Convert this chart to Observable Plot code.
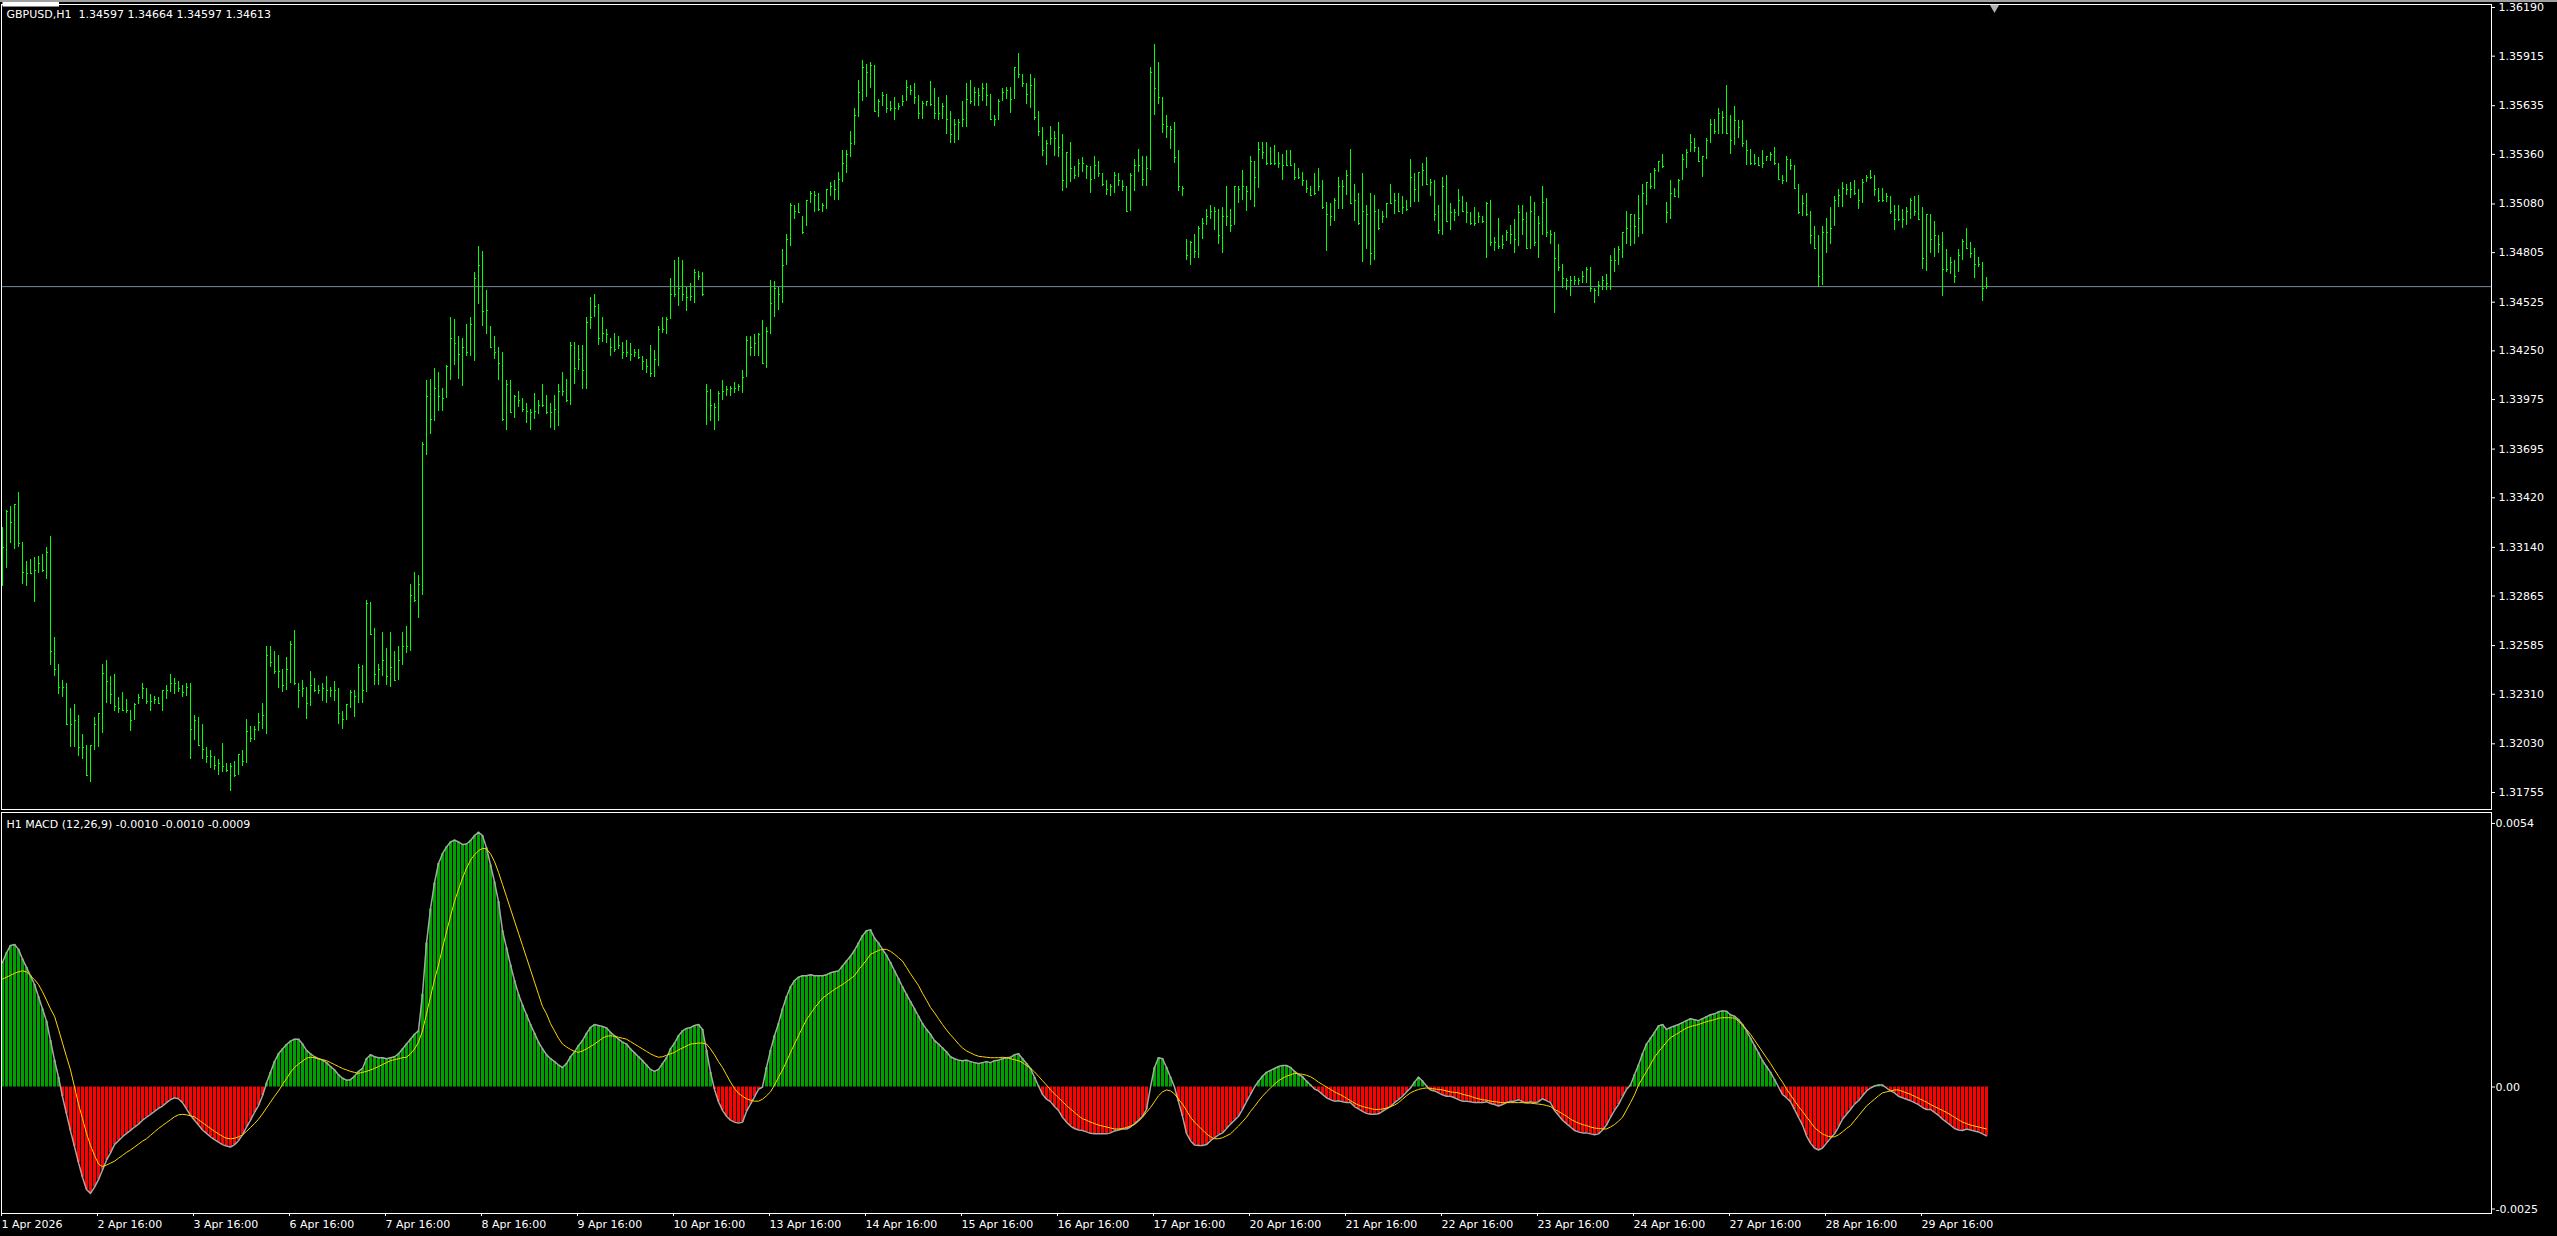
<!DOCTYPE html>
<html><head><meta charset="utf-8">
<script src="https://cdn.jsdelivr.net/npm/d3@7"></script>
<script src="https://cdn.jsdelivr.net/npm/@observablehq/plot@0.6"></script>
<style>
html,body{margin:0;padding:0;background:#000;width:2557px;height:1236px;overflow:hidden;}
#chrome{position:absolute;left:0;top:0;width:2557px;height:2px;background:#a0a0a0;}
#pricePanel{position:absolute;left:0;top:0;}
#macdPanel{position:absolute;left:0;top:810px;}
svg{display:block}
</style></head><body>
<div id="pricePanel"></div><div id="macdPanel"></div><div id="chrome"></div>
<script>
const symbol = "GBPUSD,H1";
const lastBar = [1.34597, 1.34664, 1.34597, 1.34613];
const macdTitle = "H1 MACD (12,26,9)";
const macdLast = [-0.0010, -0.0010, -0.0009];
const priceTicks = [1.36190,1.35915,1.35635,1.35360,1.35080,1.34805,1.34525,1.34250,1.33975,1.33695,1.33420,1.33140,1.32865,1.32585,1.32310,1.32030,1.31755];
const macdTicks = [0.0054, 0, -0.0025];
const macdTickLabels = ["0.0054", "0.00", "-0.0025"];
const timeTickBars = [0,24,48,72,96,120,144,168,192,216,240,264,288,312,336,360,384,408,432,456,480];
const timeTickLabels = ["1 Apr 2026","2 Apr 16:00","3 Apr 16:00","6 Apr 16:00","7 Apr 16:00","8 Apr 16:00","9 Apr 16:00","10 Apr 16:00","13 Apr 16:00","14 Apr 16:00","15 Apr 16:00","16 Apr 16:00","17 Apr 16:00","20 Apr 16:00","21 Apr 16:00","22 Apr 16:00","23 Apr 16:00","24 Apr 16:00","27 Apr 16:00","28 Apr 16:00","29 Apr 16:00"];
const chartShiftBar = [498];

const high = [
1.3325,1.3335,1.3337,1.3338,1.3345,1.3317,1.3306,1.3307,1.3308,1.3309,
1.3310,1.3314,1.3320,1.3263,1.3248,1.3239,1.3237,1.3223,1.3225,1.3219,
1.3208,1.3202,1.3202,1.3218,1.3220,1.3248,1.3250,1.3241,1.3242,1.3229,
1.3232,1.3228,1.3222,1.3226,1.3231,1.3237,1.3234,1.3231,1.3230,1.3229,
1.3233,1.3236,1.3242,1.3240,1.3238,1.3236,1.3237,1.3237,1.3219,1.3218,
1.3214,1.3201,1.3199,1.3196,1.3194,1.3203,1.3192,1.3192,1.3193,1.3197,
1.3199,1.3217,1.3213,1.3213,1.3220,1.3226,1.3258,1.3258,1.3255,1.3253,
1.3245,1.3252,1.3261,1.3267,1.3237,1.3239,1.3235,1.3244,1.3240,1.3236,
1.3237,1.3241,1.3235,1.3238,1.3234,1.3221,1.3225,1.3233,1.3233,1.3248,
1.3247,1.3284,1.3283,1.3268,1.3248,1.3266,1.3257,1.3266,1.3255,1.3258,
1.3266,1.3269,1.3293,1.3300,1.3298,1.3373,1.3408,1.3409,1.3415,1.3413,
1.3404,1.3417,1.3444,1.3443,1.3433,1.3432,1.3440,1.3444,1.3469,1.3484,
1.3481,1.3459,1.3439,1.3433,1.3427,
1.3424,1.3408,1.3408,1.3400,1.3402,1.3398,1.3395,1.3392,1.3401,1.3397,
1.3406,1.3400,1.3395,1.3400,1.3406,1.3413,1.3409,1.3430,1.3430,1.3428,
1.3428,1.3444,1.3455,1.3457,1.3451,1.3444,1.3437,1.3432,1.3435,1.3433,
1.3430,1.3431,1.3429,1.3426,1.3426,1.3422,1.3420,1.3428,1.3425,1.3439,
1.3444,1.3444,1.3466,1.3476,1.3478,1.3476,1.3461,1.3463,1.3471,1.3470,
1.3469,1.3406,1.3403,1.3395,1.3402,1.3408,1.3405,1.3405,1.3407,1.3406,
1.3414,1.3433,1.3433,1.3434,1.3435,1.3442,1.3438,1.3465,1.3464,1.3461,
1.3482,1.3491,1.3508,1.3507,1.3508,1.3501,1.3510,1.3515,1.3515,1.3514,
1.3508,1.3516,1.3520,1.3521,1.3526,1.3538,1.3538,1.3549,1.3562,1.3578,
1.3589,1.3587,1.3588,1.3586,1.3567,1.3571,1.3570,1.3566,1.3568,1.3565,
1.3569,1.3578,1.3575,1.3576,1.3569,1.3566,1.3566,1.3577,1.3573,1.3568,
1.3565,1.3569,1.3560,1.3556,1.3556,1.3566,1.3576,1.3578,1.3574,1.3573,
1.3576,1.3576,1.3570,1.3558,1.3567,
1.3573,1.3574,1.3574,1.3585,1.3593,1.3581,1.3576,1.3581,1.3579,1.3560,
1.3551,1.3544,1.3552,1.3549,1.3554,1.3547,1.3537,1.3543,1.3529,1.3533,
1.3534,1.3530,1.3529,1.3535,1.3532,1.3525,1.3521,1.3519,1.3526,1.3525,
1.3521,1.3518,1.3525,1.3533,1.3539,1.3535,1.3535,1.3585,1.3598,1.3588,
1.3568,1.3558,1.3552,1.3554,1.3538,1.3518,1.3488,1.3487,1.3491,1.3495,
1.3500,1.3505,1.3507,1.3506,1.3505,1.3506,1.3518,1.3505,1.3518,1.3518,
1.3527,1.3518,1.3535,1.3532,1.3543,1.3543,1.3543,1.3540,1.3541,1.3537,
1.3536,1.3538,1.3538,1.3531,1.3528,1.3526,1.3521,1.3518,1.3525,1.3528,
1.3521,1.3509,1.3508,1.3511,1.3523,1.3521,1.3527,1.3539,1.3519,1.3514,
1.3525,1.3507,1.3514,1.3513,1.3505,1.3504,1.3508,1.3519,1.3514,1.3514,
1.3512,1.3510,1.3533,1.3525,1.3526,1.3531,1.3534,1.3522,1.3521,1.3507,
1.3523,1.3524,1.3508,1.3505,1.3516,1.3512,1.3509,1.3503,1.3506,1.3503,
1.3501,1.3509,1.3510,1.3489,1.3500,
1.3490,1.3493,1.3496,1.3499,1.3507,1.3507,1.3503,1.3512,1.3509,1.3501,
1.3518,1.3511,1.3493,1.3492,1.3485,1.3474,1.3466,1.3467,1.3467,1.3466,
1.3470,1.3472,1.3472,1.3460,1.3464,1.3467,1.3468,1.3479,1.3483,1.3484,
1.3492,1.3504,1.3502,1.3502,1.3513,1.3519,1.3520,1.3525,1.3528,1.3532,
1.3536,1.3509,1.3521,1.3517,1.3522,1.3536,1.3539,1.3547,1.3545,1.3540,
1.3535,1.3545,1.3556,1.3556,1.3562,1.3560,1.3575,1.3558,1.3563,1.3555,
1.3555,1.3544,1.3539,1.3536,1.3534,1.3538,1.3535,1.3537,1.3540,1.3531,
1.3524,1.3535,1.3533,1.3530,1.3519,1.3513,1.3514,1.3504,1.3495,1.3490,
1.3495,1.3500,1.3506,1.3512,1.3516,1.3520,1.3519,1.3520,1.3521,1.3516,
1.3522,1.3524,1.3527,1.3524,1.3517,1.3517,1.3514,1.3512,1.3507,1.3507,
1.3505,1.3506,1.3511,1.3512,1.3513,1.3506,1.3502,1.3502,1.3498,1.3490,
1.3492,1.3482,1.3478,1.3476,1.3482,1.3488,1.3494,1.3486,1.3483,1.3478,
1.3475,1.34664];

const low = [
1.3292,1.3302,1.3316,1.3313,1.3314,1.3293,1.3292,1.3299,1.3283,1.3299,
1.3300,1.3296,1.3247,1.3241,1.3231,1.3229,1.3214,1.3201,1.3201,1.3196,
1.3194,1.3185,1.3181,1.3199,1.3201,1.3209,1.3226,1.3225,1.3221,1.3220,
1.3222,1.3220,1.3210,1.3216,1.3225,1.3228,1.3225,1.3221,1.3225,1.3225,
1.3221,1.3228,1.3232,1.3231,1.3232,1.3229,1.3230,1.3194,1.3205,1.3202,
1.3194,1.3192,1.3189,1.3188,1.3185,1.3187,1.3187,1.3176,1.3184,1.3185,
1.3190,1.3192,1.3204,1.3205,1.3210,1.3211,1.3208,1.3246,1.3242,1.3234,
1.3232,1.3233,1.3237,1.3236,1.3223,1.3229,1.3217,1.3224,1.3232,1.3231,
1.3227,1.3226,1.3229,1.3227,1.3214,1.3211,1.3216,1.3223,1.3218,1.3226,
1.3226,1.3232,1.3265,1.3236,1.3236,1.3241,1.3236,1.3235,1.3238,1.3239,
1.3247,1.3254,1.3255,1.3283,1.3274,1.3287,1.3366,1.3378,1.3385,1.3391,
1.3391,1.3398,1.3408,1.3417,1.3409,1.3405,1.3422,1.3422,1.3419,1.3451,
1.3439,1.3434,1.3427,1.3420,1.3408,
1.3385,1.3380,1.3390,1.3387,1.3393,1.3390,1.3384,1.3380,1.3386,1.3389,
1.3393,1.3389,1.3381,1.3380,1.3382,1.3399,1.3396,1.3394,1.3406,1.3414,
1.3403,1.3403,1.3437,1.3444,1.3428,1.3430,1.3429,1.3422,1.3424,1.3426,
1.3420,1.3421,1.3419,1.3421,1.3420,1.3414,1.3412,1.3410,1.3410,1.3416,
1.3435,1.3434,1.3443,1.3455,1.3450,1.3453,1.3447,1.3453,1.3452,1.3465,
1.3456,1.3383,1.3385,1.3380,1.3385,1.3397,1.3399,1.3399,1.3401,1.3402,
1.3401,1.3410,1.3422,1.3422,1.3422,1.3418,1.3415,1.3434,1.3444,1.3448,
1.3452,1.3473,1.3484,1.3499,1.3503,1.3491,1.3495,1.3508,1.3503,1.3504,
1.3503,1.3505,1.3512,1.3510,1.3510,1.3520,1.3525,1.3534,1.3541,1.3557,
1.3566,1.3568,1.3573,1.3560,1.3557,1.3563,1.3559,1.3560,1.3555,1.3561,
1.3563,1.3566,1.3569,1.3564,1.3556,1.3556,1.3563,1.3563,1.3556,1.3555,
1.3556,1.3547,1.3542,1.3542,1.3544,1.3551,1.3551,1.3564,1.3563,1.3563,
1.3566,1.3563,1.3555,1.3552,1.3555,
1.3566,1.3567,1.3559,1.3567,1.3579,1.3574,1.3564,1.3562,1.3555,1.3546,
1.3535,1.3530,1.3541,1.3535,1.3534,1.3515,1.3517,1.3520,1.3522,1.3523,
1.3526,1.3522,1.3514,1.3522,1.3523,1.3518,1.3513,1.3512,1.3514,1.3518,
1.3515,1.3503,1.3504,1.3515,1.3526,1.3518,1.3518,1.3527,1.3558,1.3564,
1.3548,1.3545,1.3539,1.3531,1.3515,1.3512,1.3476,1.3473,1.3477,1.3477,
1.3488,1.3496,1.3499,1.3493,1.3485,1.3480,1.3495,1.3492,1.3496,1.3508,
1.3510,1.3504,1.3510,1.3506,1.3517,1.3533,1.3530,1.3530,1.3530,1.3528,
1.3521,1.3530,1.3529,1.3521,1.3522,1.3518,1.3514,1.3513,1.3513,1.3515,
1.3505,1.3481,1.3495,1.3498,1.3505,1.3505,1.3513,1.3508,1.3498,1.3496,
1.3475,1.3482,1.3473,1.3476,1.3493,1.3497,1.3500,1.3508,1.3502,1.3504,
1.3502,1.3504,1.3506,1.3509,1.3509,1.3518,1.3519,1.3512,1.3498,1.3491,
1.3490,1.3498,1.3493,1.3498,1.3501,1.3503,1.3497,1.3496,1.3495,1.3497,
1.3497,1.3477,1.3484,1.3481,1.3482,
1.3482,1.3487,1.3485,1.3480,1.3484,1.3490,1.3483,1.3482,1.3484,1.3477,
1.3490,1.3489,1.3485,1.3446,1.3470,1.3460,1.3459,1.3456,1.3462,1.3462,
1.3463,1.3463,1.3458,1.3452,1.3456,1.3459,1.3459,1.3459,1.3469,1.3473,
1.3477,1.3485,1.3484,1.3485,1.3489,1.3491,1.3507,1.3516,1.3516,1.3526,
1.3528,1.3497,1.3499,1.3512,1.3511,1.3521,1.3528,1.3537,1.3537,1.3532,
1.3523,1.3533,1.3542,1.3547,1.3547,1.3547,1.3547,1.3536,1.3541,1.3545,
1.3540,1.3530,1.3530,1.3530,1.3530,1.3528,1.3532,1.3532,1.3530,1.3522,
1.3519,1.3520,1.3527,1.3516,1.3502,1.3501,1.3501,1.3485,1.3482,1.3461,
1.3462,1.3480,1.3485,1.3495,1.3506,1.3506,1.3513,1.3511,1.3513,1.3505,
1.3508,1.3520,1.3522,1.3512,1.3509,1.3509,1.3509,1.3502,1.3493,1.3498,
1.3494,1.3496,1.3499,1.3501,1.3499,1.3471,1.3470,1.3480,1.3478,1.3480,
1.3456,1.3469,1.3468,1.3463,1.3469,1.3476,1.3483,1.3477,1.3466,1.3472,
1.3453,1.34597];

const close = [
1.3314,1.3334,1.3328,1.3338,1.3316,1.3300,1.3299,1.3299,1.3301,1.3305,
1.3301,1.3311,1.3255,1.3245,1.3235,1.3235,1.3214,1.3214,1.3216,1.3201,
1.3201,1.3185,1.3202,1.3214,1.3220,1.3243,1.3238,1.3231,1.3224,1.3223,
1.3222,1.3222,1.3216,1.3225,1.3229,1.3234,1.3227,1.3227,1.3228,1.3226,
1.3233,1.3233,1.3237,1.3237,1.3234,1.3232,1.3235,1.3211,1.3216,1.3202,
1.3200,1.3196,1.3196,1.3191,1.3192,1.3190,1.3188,1.3190,1.3185,1.3197,
1.3193,1.3210,1.3206,1.3211,1.3215,1.3219,1.3253,1.3249,1.3244,1.3244,
1.3236,1.3245,1.3259,1.3237,1.3233,1.3234,1.3226,1.3236,1.3233,1.3233,
1.3234,1.3233,1.3233,1.3233,1.3220,1.3217,1.3225,1.3232,1.3230,1.3246,
1.3233,1.3282,1.3265,1.3242,1.3245,1.3250,1.3241,1.3246,1.3239,1.3250,
1.3258,1.3258,1.3287,1.3284,1.3293,1.3372,1.3399,1.3386,1.3404,1.3399,
1.3398,1.3416,1.3432,1.3429,1.3423,1.3427,1.3424,1.3440,1.3466,1.3473,
1.3447,1.3448,1.3427,1.3424,1.3418,
1.3386,1.3406,1.3390,1.3399,1.3397,1.3392,1.3391,1.3390,1.3391,1.3394,
1.3394,1.3390,1.3390,1.3392,1.3402,1.3402,1.3397,1.3428,1.3415,1.3420,
1.3414,1.3441,1.3444,1.3450,1.3432,1.3435,1.3434,1.3427,1.3426,1.3428,
1.3424,1.3424,1.3423,1.3424,1.3421,1.3419,1.3416,1.3412,1.3420,1.3437,
1.3437,1.3443,1.3457,1.3457,1.3460,1.3457,1.3455,1.3456,1.3469,1.3467,
1.3457,1.3402,1.3394,1.3393,1.3401,1.3402,1.3403,1.3404,1.3404,1.3405,
1.3410,1.3431,1.3427,1.3429,1.3434,1.3418,1.3436,1.3452,1.3460,1.3457,
1.3473,1.3488,1.3507,1.3504,1.3503,1.3492,1.3510,1.3514,1.3513,1.3505,
1.3507,1.3516,1.3518,1.3516,1.3522,1.3531,1.3536,1.3542,1.3558,1.3571,
1.3585,1.3582,1.3586,1.3560,1.3566,1.3569,1.3562,1.3562,1.3562,1.3563,
1.3566,1.3574,1.3572,1.3568,1.3559,1.3565,1.3566,1.3564,1.3559,1.3559,
1.3563,1.3556,1.3547,1.3553,1.3554,1.3556,1.3567,1.3566,1.3571,1.3569,
1.3573,1.3569,1.3556,1.3556,1.3566,
1.3571,1.3572,1.3567,1.3585,1.3581,1.3576,1.3570,1.3575,1.3557,1.3549,
1.3538,1.3542,1.3545,1.3545,1.3540,1.3521,1.3537,1.3528,1.3524,1.3531,
1.3531,1.3529,1.3522,1.3530,1.3525,1.3519,1.3516,1.3518,1.3524,1.3521,
1.3518,1.3504,1.3524,1.3530,1.3530,1.3522,1.3528,1.3582,1.3573,1.3568,
1.3553,1.3552,1.3550,1.3534,1.3518,1.3517,1.3479,1.3486,1.3481,1.3494,
1.3497,1.3501,1.3504,1.3504,1.3490,1.3501,1.3501,1.3496,1.3518,1.3516,
1.3518,1.3515,1.3532,1.3523,1.3539,1.3537,1.3531,1.3531,1.3531,1.3531,
1.3530,1.3530,1.3530,1.3523,1.3523,1.3521,1.3517,1.3513,1.3514,1.3518,
1.3506,1.3502,1.3501,1.3510,1.3518,1.3518,1.3524,1.3508,1.3510,1.3497,
1.3504,1.3502,1.3480,1.3504,1.3494,1.3501,1.3508,1.3508,1.3510,1.3504,
1.3506,1.3505,1.3523,1.3516,1.3526,1.3527,1.3519,1.3520,1.3502,1.3493,
1.3518,1.3498,1.3503,1.3503,1.3510,1.3504,1.3503,1.3497,1.3497,1.3501,
1.3498,1.3508,1.3486,1.3486,1.3484,
1.3485,1.3492,1.3491,1.3488,1.3503,1.3499,1.3483,1.3504,1.3486,1.3497,
1.3509,1.3492,1.3491,1.3477,1.3472,1.3466,1.3465,1.3465,1.3465,1.3465,
1.3467,1.3471,1.3460,1.3459,1.3462,1.3465,1.3463,1.3476,1.3476,1.3482,
1.3492,1.3494,1.3502,1.3495,1.3500,1.3514,1.3520,1.3518,1.3527,1.3532,
1.3529,1.3503,1.3514,1.3512,1.3521,1.3533,1.3537,1.3543,1.3540,1.3532,
1.3535,1.3544,1.3553,1.3549,1.3559,1.3557,1.3548,1.3544,1.3555,1.3551,
1.3542,1.3538,1.3531,1.3531,1.3530,1.3531,1.3535,1.3536,1.3531,1.3522,
1.3521,1.3533,1.3530,1.3517,1.3503,1.3508,1.3502,1.3490,1.3483,1.3467,
1.3492,1.3492,1.3494,1.3510,1.3513,1.3517,1.3516,1.3516,1.3514,1.3510,
1.3520,1.3523,1.3523,1.3516,1.3510,1.3510,1.3512,1.3504,1.3499,1.3499,
1.3499,1.3504,1.3510,1.3504,1.3499,1.3477,1.3502,1.3488,1.3490,1.3485,
1.3471,1.3471,1.3475,1.3467,1.3479,1.3487,1.3483,1.3480,1.3474,1.3474,
1.3460,1.34613];

// MACD main line / histogram, one value per bar
const macd = [
0.00255,0.00275,0.00290,0.00292,0.00282,0.00262,0.00245,0.00228,0.00210,0.00185,
0.00160,0.00135,0.00095,0.00055,0.00020,-0.00020,-0.00055,-0.00090,-0.00122,-0.00155,
-0.00185,-0.00210,-0.00218,-0.00205,-0.00190,-0.00170,-0.00150,-0.00135,-0.00118,-0.00110,
-0.00102,-0.00095,-0.00089,-0.00082,-0.00076,-0.00068,-0.00062,-0.00056,-0.00050,-0.00044,
-0.00039,-0.00032,-0.00026,-0.00022,-0.00024,-0.00032,-0.00045,-0.00058,-0.00068,-0.00078,
-0.00088,-0.00095,-0.00102,-0.00108,-0.00113,-0.00118,-0.00121,-0.00123,-0.00118,-0.00110,
-0.00098,-0.00082,-0.00068,-0.00052,-0.00038,-0.00018,0.00008,0.00030,0.00052,0.00068,
0.00078,0.00087,0.00094,0.00098,0.00098,0.00088,0.00075,0.00068,0.00062,0.00058,
0.00055,0.00050,0.00042,0.00035,0.00025,0.00018,0.00014,0.00015,0.00022,0.00032,
0.00038,0.00058,0.00066,0.00062,0.00060,0.00060,0.00058,0.00060,0.00062,0.00068,
0.00078,0.00088,0.00098,0.00108,0.00115,0.00190,0.00295,0.00365,0.00418,0.00458,
0.00478,0.00492,0.00502,0.00506,0.00502,0.00497,0.00498,0.00505,0.00515,0.00522,
0.00515,0.00490,0.00455,0.00420,0.00380,0.00320,0.00285,0.00250,0.00218,0.00190,
0.00168,0.00148,0.00128,0.00110,0.00092,0.00078,0.00066,0.00058,0.00052,0.00045,
0.00040,0.00048,0.00062,0.00072,0.00085,0.00095,0.00110,0.00122,0.00128,0.00126,
0.00124,0.00121,0.00112,0.00105,0.00098,0.00092,0.00088,0.00078,0.00070,0.00062,
0.00054,0.00045,0.00036,0.00032,0.00036,0.00048,0.00060,0.00078,0.00090,0.00105,
0.00115,0.00120,0.00122,0.00126,0.00128,0.00118,0.00075,0.00030,-0.00005,-0.00030,
-0.00048,-0.00060,-0.00068,-0.00072,-0.00074,-0.00072,-0.00050,-0.00035,-0.00020,-0.00005,
0.00000,0.00040,0.00075,0.00105,0.00130,0.00160,0.00185,0.00205,0.00218,0.00225,
0.00228,0.00228,0.00230,0.00228,0.00228,0.00228,0.00230,0.00234,0.00236,0.00238,
0.00248,0.00258,0.00268,0.00280,0.00295,0.00310,0.00320,0.00322,0.00305,0.00295,
0.00282,0.00270,0.00255,0.00238,0.00222,0.00205,0.00190,0.00175,0.00160,0.00145,
0.00130,0.00118,0.00108,0.00095,0.00088,0.00080,0.00072,0.00062,0.00058,0.00055,
0.00054,0.00055,0.00052,0.00050,0.00048,0.00050,0.00052,0.00050,0.00054,0.00055,
0.00058,0.00060,0.00061,0.00066,0.00068,0.00058,0.00048,0.00038,0.00020,0.00002,
-0.00015,-0.00025,-0.00030,-0.00040,-0.00048,-0.00062,-0.00072,-0.00080,-0.00085,-0.00088,
-0.00089,-0.00092,-0.00095,-0.00096,-0.00096,-0.00096,-0.00096,-0.00094,-0.00090,-0.00088,
-0.00086,-0.00086,-0.00082,-0.00075,-0.00068,-0.00060,-0.00046,0.00000,0.00040,0.00060,
0.00058,0.00040,0.00020,0.00000,-0.00030,-0.00060,-0.00095,-0.00110,-0.00119,-0.00120,
-0.00120,-0.00118,-0.00110,-0.00104,-0.00098,-0.00094,-0.00085,-0.00076,-0.00068,-0.00060,
-0.00046,-0.00030,-0.00015,0.00000,0.00012,0.00022,0.00030,0.00034,0.00038,0.00042,
0.00044,0.00044,0.00040,0.00032,0.00026,0.00021,0.00012,0.00004,-0.00004,-0.00008,
-0.00015,-0.00022,-0.00026,-0.00029,-0.00028,-0.00030,-0.00032,-0.00032,-0.00040,-0.00045,
-0.00050,-0.00054,-0.00056,-0.00056,-0.00055,-0.00050,-0.00045,-0.00040,-0.00032,-0.00026,
-0.00019,-0.00010,-0.00002,0.00010,0.00020,0.00012,0.00002,-0.00006,-0.00008,-0.00012,
-0.00016,-0.00019,-0.00019,-0.00022,-0.00026,-0.00029,-0.00029,-0.00030,-0.00032,-0.00032,
-0.00032,-0.00030,-0.00034,-0.00036,-0.00039,-0.00036,-0.00032,-0.00029,-0.00029,-0.00026,
-0.00030,-0.00032,-0.00030,-0.00032,-0.00030,-0.00024,-0.00028,-0.00032,-0.00048,-0.00058,
-0.00068,-0.00075,-0.00082,-0.00089,-0.00092,-0.00094,-0.00094,-0.00096,-0.00098,-0.00096,
-0.00088,-0.00078,-0.00062,-0.00048,-0.00036,-0.00020,-0.00005,0.00004,0.00025,0.00045,
0.00068,0.00088,0.00100,0.00112,0.00125,0.00128,0.00118,0.00122,0.00125,0.00128,
0.00132,0.00136,0.00140,0.00138,0.00136,0.00140,0.00144,0.00148,0.00150,0.00154,
0.00156,0.00155,0.00148,0.00145,0.00138,0.00128,0.00115,0.00100,0.00085,0.00070,
0.00054,0.00042,0.00030,0.00015,0.00000,-0.00015,-0.00022,-0.00030,-0.00046,-0.00062,
-0.00078,-0.00100,-0.00115,-0.00125,-0.00129,-0.00125,-0.00115,-0.00105,-0.00096,-0.00082,
-0.00066,-0.00056,-0.00046,-0.00035,-0.00028,-0.00018,-0.00008,-0.00002,0.00002,0.00004,
0.00004,-0.00002,-0.00008,-0.00012,-0.00019,-0.00022,-0.00025,-0.00028,-0.00032,-0.00036,
-0.00042,-0.00046,-0.00046,-0.00052,-0.00058,-0.00066,-0.00072,-0.00078,-0.00085,-0.00088,
-0.00089,-0.00086,-0.00088,-0.00090,-0.00092,-0.00096,-0.00100];

// MACD signal line, one value per bar
const signal = [
0.00221,0.00225,0.00229,0.00233,0.00236,0.00238,0.00236,0.00228,0.00220,0.00210,
0.00195,0.00178,0.00160,0.00145,0.00118,0.00090,0.00062,0.00035,0.00000,-0.00035,
-0.00065,-0.00095,-0.00120,-0.00140,-0.00158,-0.00163,-0.00160,-0.00156,-0.00152,-0.00146,
-0.00140,-0.00134,-0.00129,-0.00123,-0.00117,-0.00111,-0.00106,-0.00099,-0.00092,-0.00085,
-0.00079,-0.00073,-0.00067,-0.00061,-0.00057,-0.00056,-0.00057,-0.00059,-0.00061,-0.00067,
-0.00073,-0.00079,-0.00085,-0.00091,-0.00096,-0.00101,-0.00105,-0.00106,-0.00105,-0.00102,
-0.00098,-0.00091,-0.00083,-0.00075,-0.00066,-0.00055,-0.00043,-0.00031,-0.00019,-0.00008,
0.00005,0.00017,0.00030,0.00040,0.00047,0.00053,0.00059,0.00061,0.00060,0.00058,
0.00056,0.00054,0.00050,0.00046,0.00042,0.00038,0.00035,0.00032,0.00030,0.00028,
0.00030,0.00032,0.00035,0.00038,0.00042,0.00046,0.00050,0.00054,0.00056,0.00058,
0.00060,0.00061,0.00068,0.00078,0.00092,0.00115,0.00150,0.00185,0.00220,0.00250,
0.00285,0.00318,0.00350,0.00380,0.00405,0.00428,0.00448,0.00465,0.00476,0.00484,
0.00489,0.00488,0.00478,0.00462,0.00440,0.00415,0.00390,0.00365,0.00340,0.00315,
0.00290,0.00265,0.00240,0.00215,0.00190,0.00165,0.00150,0.00130,0.00115,0.00100,
0.00088,0.00082,0.00077,0.00073,0.00071,0.00074,0.00078,0.00083,0.00088,0.00094,
0.00100,0.00104,0.00105,0.00104,0.00102,0.00100,0.00098,0.00093,0.00088,0.00083,
0.00078,0.00073,0.00068,0.00064,0.00061,0.00062,0.00065,0.00068,0.00071,0.00076,
0.00080,0.00084,0.00088,0.00089,0.00090,0.00090,0.00088,0.00078,0.00066,0.00052,
0.00040,0.00025,0.00010,-0.00003,-0.00013,-0.00019,-0.00024,-0.00027,-0.00029,-0.00029,
-0.00025,-0.00018,-0.00010,0.00004,0.00020,0.00035,0.00052,0.00071,0.00088,0.00105,
0.00122,0.00138,0.00150,0.00162,0.00172,0.00182,0.00188,0.00194,0.00200,0.00205,
0.00210,0.00216,0.00222,0.00228,0.00240,0.00250,0.00260,0.00272,0.00276,0.00280,
0.00282,0.00282,0.00278,0.00272,0.00265,0.00258,0.00245,0.00232,0.00220,0.00208,
0.00192,0.00178,0.00163,0.00152,0.00140,0.00128,0.00117,0.00107,0.00098,0.00088,
0.00080,0.00074,0.00070,0.00066,0.00063,0.00062,0.00061,0.00060,0.00060,0.00060,
0.00061,0.00060,0.00058,0.00056,0.00054,0.00050,0.00044,0.00038,0.00031,0.00022,
0.00013,0.00004,-0.00006,-0.00014,-0.00022,-0.00030,-0.00038,-0.00045,-0.00052,-0.00059,
-0.00065,-0.00068,-0.00072,-0.00075,-0.00078,-0.00080,-0.00082,-0.00084,-0.00086,-0.00086,
-0.00085,-0.00083,-0.00080,-0.00077,-0.00070,-0.00062,-0.00052,-0.00042,-0.00030,-0.00018,
-0.00010,-0.00006,-0.00008,-0.00014,-0.00025,-0.00035,-0.00048,-0.00062,-0.00072,-0.00080,
-0.00088,-0.00096,-0.00102,-0.00106,-0.00106,-0.00104,-0.00100,-0.00096,-0.00088,-0.00080,
-0.00071,-0.00062,-0.00050,-0.00040,-0.00029,-0.00019,-0.00010,-0.00002,0.00006,0.00013,
0.00018,0.00022,0.00025,0.00028,0.00027,0.00026,0.00024,0.00021,0.00016,0.00010,
0.00005,0.00000,-0.00005,-0.00010,-0.00014,-0.00018,-0.00023,-0.00028,-0.00033,-0.00037,
-0.00040,-0.00042,-0.00044,-0.00046,-0.00046,-0.00045,-0.00043,-0.00040,-0.00037,-0.00032,
-0.00025,-0.00018,-0.00012,-0.00008,-0.00005,-0.00003,-0.00002,-0.00003,-0.00004,-0.00005,
-0.00006,-0.00008,-0.00010,-0.00011,-0.00012,-0.00015,-0.00017,-0.00019,-0.00022,-0.00024,
-0.00026,-0.00027,-0.00029,-0.00030,-0.00031,-0.00032,-0.00032,-0.00032,-0.00032,-0.00032,
-0.00032,-0.00033,-0.00033,-0.00034,-0.00035,-0.00036,-0.00038,-0.00040,-0.00046,-0.00050,
-0.00055,-0.00060,-0.00066,-0.00070,-0.00074,-0.00077,-0.00079,-0.00082,-0.00084,-0.00085,
-0.00086,-0.00086,-0.00082,-0.00077,-0.00070,-0.00062,-0.00047,-0.00032,-0.00016,0.00004,
0.00018,0.00032,0.00046,0.00061,0.00072,0.00082,0.00092,0.00101,0.00106,0.00111,
0.00116,0.00121,0.00124,0.00126,0.00128,0.00131,0.00134,0.00136,0.00138,0.00141,
0.00142,0.00142,0.00142,0.00141,0.00135,0.00127,0.00118,0.00108,0.00096,0.00084,
0.00072,0.00060,0.00048,0.00035,0.00022,0.00010,-0.00004,-0.00016,-0.00028,-0.00040,
-0.00050,-0.00061,-0.00072,-0.00083,-0.00090,-0.00096,-0.00100,-0.00102,-0.00102,-0.00098,
-0.00092,-0.00085,-0.00079,-0.00069,-0.00059,-0.00049,-0.00039,-0.00032,-0.00025,-0.00018,
-0.00012,-0.00010,-0.00008,-0.00006,-0.00006,-0.00009,-0.00012,-0.00015,-0.00019,-0.00023,
-0.00027,-0.00031,-0.00036,-0.00040,-0.00044,-0.00048,-0.00052,-0.00057,-0.00062,-0.00067,
-0.00072,-0.00075,-0.00078,-0.00080,-0.00082,-0.00084,-0.00086];

const FONT = "DejaVu Sans";
const GREEN = "#00ff00";
const bars = high.map((h, i) => ({i, high: h, low: low[i], close: close[i]}));
const xDomain = [-0.25, 622.25];

const pricePlot = Plot.plot({
  width: 2557, height: 810,
  marginLeft: 1, marginRight: 66, marginTop: 4, marginBottom: 1,
  style: {background: "#000", color: "#fff", fontFamily: FONT, fontSize: "11px"},
  x: {domain: xDomain, axis: null},
  y: {domain: [1.316589, 1.362069], axis: null},
  marks: [
    Plot.ruleY([lastBar[3]], {stroke: "#778899", strokeWidth: 1}),
    Plot.ruleX(bars, {x: "i", y1: "low", y2: "high", stroke: GREEN, strokeWidth: 1, shapeRendering: "crispEdges"}),
    Plot.ruleY(bars, {x1: "i", x2: d => d.i + 0.375, y: "close", stroke: GREEN, strokeWidth: 1, shapeRendering: "crispEdges"}),
    Plot.frame({stroke: "#fff"}),
    Plot.dot(chartShiftBar, {x: d => d, frameAnchor: "top", dy: 3, symbol: "triangle", rotate: 180, r: 3.5, fill: "#b0b0b0", stroke: null}),
    Plot.axisY(priceTicks, {anchor: "right", tickSize: 3, tickPadding: 4, tickFormat: d => d.toFixed(5), stroke: "#fff", fill: "#fff", fontSize: 11, label: null}),
    Plot.text([lastBar[3]], {y: d => d, frameAnchor: "right", dx: 7, textAnchor: "start", fill: "#000", fontSize: 11, text: d => d.toFixed(5), className: "curprice"}),
    Plot.text([symbol + "  " + lastBar.map(v => v.toFixed(5)).join(" ")], {frameAnchor: "top-left", dx: 5, dy: 6, lineAnchor: "top", textAnchor: "start", fill: "#fff", fontSize: 11, text: d => d})
  ]
});
document.getElementById("pricePanel").appendChild(pricePlot);

// white box behind current price label
const ct = pricePlot.querySelector(".curprice text");
if (ct) {
  const bb = ct.getBBox();
  const r = document.createElementNS("http://www.w3.org/2000/svg", "rect");
  r.setAttribute("x", bb.x - 5); r.setAttribute("y", bb.y - 0.5);
  r.setAttribute("width", bb.width + 11); r.setAttribute("height", bb.height);
  r.setAttribute("fill", "#fff");
  ct.parentNode.insertBefore(r, ct);
}

const mdata = macd.map((v, i) => ({i, v, s: signal[i]}));
const tickLabelMap = new Map(timeTickBars.map((b, k) => [b, timeTickLabels[k]]));
const macdLabelMap = new Map(macdTicks.map((v, k) => [v, macdTickLabels[k]]));

const macdPlot = Plot.plot({
  width: 2557, height: 426,
  marginLeft: 1, marginRight: 66, marginTop: 2, marginBottom: 23,
  style: {background: "#000", color: "#fff", fontFamily: FONT, fontSize: "11px"},
  x: {domain: xDomain, axis: null},
  y: {domain: [-0.002592, 0.005625], axis: null},
  marks: [
    Plot.ruleX(mdata, {x: "i", y1: 0, y2: "v", stroke: d => d.v >= 0 ? "#00a000" : "#ff0000", strokeWidth: 3}),
    Plot.line(mdata, {x: "i", y: "v", stroke: "#a8a8a8", strokeWidth: 1.5}),
    Plot.line(mdata, {x: "i", y: "s", stroke: "#ffd700", strokeWidth: 1}),
    Plot.frame({stroke: "#fff"}),
    Plot.axisY(macdTicks, {anchor: "right", tickSize: 3, tickPadding: 1, tickFormat: d => macdLabelMap.get(d), stroke: "#fff", fill: "#fff", fontSize: 11, label: null}),
    Plot.axisX(timeTickBars, {anchor: "bottom", tickSize: 3, tickPadding: 4, tickFormat: d => tickLabelMap.get(d), textAnchor: "start", dx: -1, stroke: "#fff", fill: "#fff", fontSize: 11, label: null}),
    Plot.text([macdTitle + " " + macdLast.map(v => v.toFixed(4)).join(" ")], {frameAnchor: "top-left", dx: 5, dy: 8, lineAnchor: "top", textAnchor: "start", fill: "#fff", fontSize: 11, text: d => d})
  ]
});
document.getElementById("macdPanel").appendChild(macdPlot);
</script>
</body></html>
